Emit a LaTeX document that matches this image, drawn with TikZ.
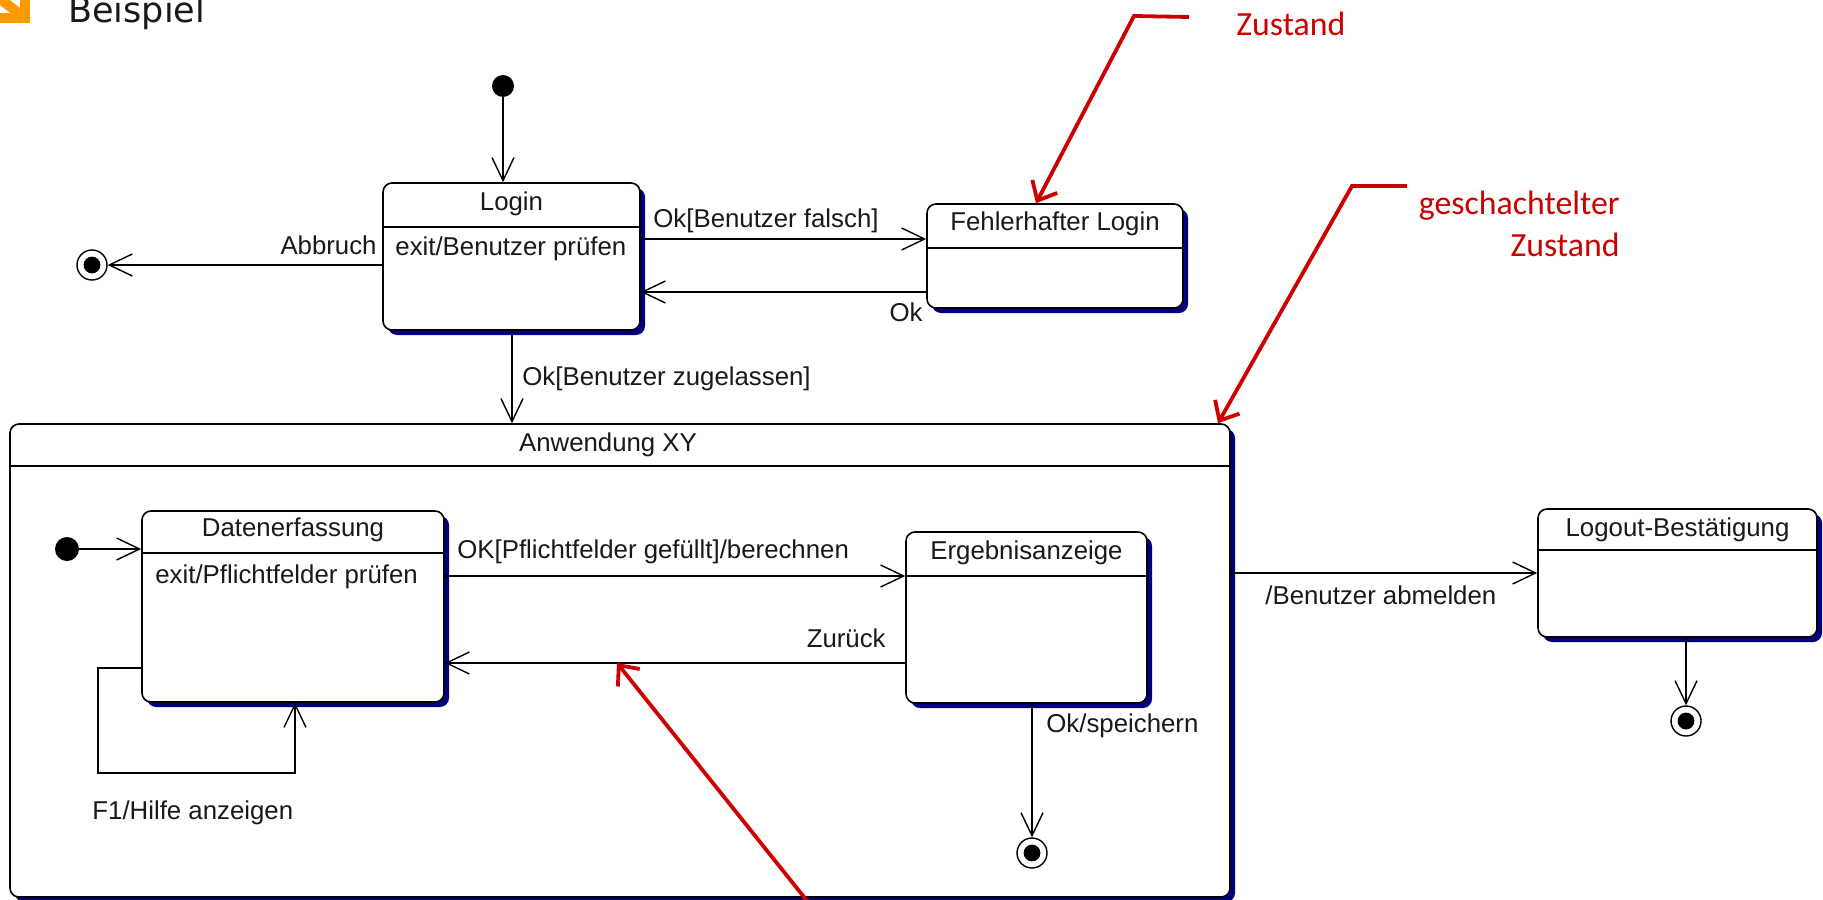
\documentclass[tikz,border=0pt]{standalone}
\usepackage{fontspec}
\setmainfont{Liberation Sans}
\newfontfamily\annofont{Carlito}
\newfontfamily\headfont{DejaVu Sans}
\usetikzlibrary{arrows.meta,shadows}
\definecolor{navyc}{RGB}{0,0,128}
\definecolor{redc}{RGB}{204,0,0}
\definecolor{orangec}{RGB}{255,153,0}
\definecolor{txt}{RGB}{25,25,25}
\begin{document}
\begin{tikzpicture}[x=0.5pt,y=-0.5pt,
  st/.style={draw=black, line width=0.8pt, fill=white, rounded corners=4.5pt, inner sep=0pt,
     drop shadow={shadow xshift=2.5pt, shadow yshift=-2.5pt, fill=navyc, opacity=1}},
  sepl/.style={draw=black, line width=0.8pt},
  tr/.style={draw=black, line width=0.7pt, -{Straight Barb[length=11.5pt,width=11pt,line width=0.7pt]}},
  ra/.style={draw=redc, line width=1.9pt, -{Straight Barb[length=8pt,width=14pt,line width=1.9pt]}},
  lbl/.style={font=\fontsize{12.9pt}{15pt}\selectfont, text=txt, inner sep=0pt},
  anno/.style={font=\annofont\fontsize{16.9pt}{21pt}\selectfont, text=redc, inner sep=0pt},
  ini/.style={circle, fill=black, minimum size=11pt, inner sep=0pt},
  fin/.style={circle, draw=black, line width=0.7pt, fill=white, minimum size=15pt, inner sep=0pt,
     path picture={\fill[black] (path picture bounding box.center) circle (4.2pt);}}
]
\clip (0,0) rectangle (1823,899);
\fill[white] (0,0) rectangle (1823,899);

% header
\fill[orangec] (20,-2) rectangle (30,23);
\fill[orangec] (0,13) rectangle (30,23);
\draw[orangec, line width=5pt] (-6,-6) -- (22,16);
\node[anchor=base west, font=\headfont\fontsize{17.5pt}{20pt}\selectfont, inner sep=0pt, text=txt] (bsp) at (68,23) {Beispiel};

% Login
\node[ini] (init1) at (503,86) {};
\node[st, minimum width=128.5pt, minimum height=73.5pt] (login) at (511.5,256.5) {};
\draw[sepl] (login.west |- 0,227) -- (login.east |- 0,227);
\node[lbl] (tLogin) at (511.5,204) {Login};
\node[lbl, anchor=west] (eLogin) at (395,249) {exit/Benutzer prüfen};

% Fehlerhafter Login
\node[st, minimum width=128pt, minimum height=52pt] (fehler) at (1055,256) {};
\draw[sepl] (fehler.west |- 0,248) -- (fehler.east |- 0,248);
\node[lbl] (tFehler) at (1055,224) {Fehlerhafter Login};

\node[fin] (fin1) at (92,265) {};

% Anwendung
\node[st, minimum width=610pt, minimum height=236.5pt] (anw) at (620,660.5) {};
\draw[sepl] (anw.west |- 0,466) -- (anw.east |- 0,466);
\node[lbl] (tAnw) at (608,445) {Anwendung XY};

% Datenerfassung
\node[ini, minimum size=12pt] (init2) at (67,549) {};
\node[st, minimum width=151pt, minimum height=95.5pt] (daten) at (293,606.5) {};
\draw[sepl] (daten.west |- 0,553) -- (daten.east |- 0,553);
\node[lbl] (tDaten) at (293,530) {Datenerfassung};
\node[lbl, anchor=west] (eDaten) at (155,577) {exit/Pflichtfelder prüfen};

% Ergebnisanzeige
\node[st, minimum width=120.5pt, minimum height=85.5pt] (erg) at (1026.5,617.5) {};
\draw[sepl] (erg.west |- 0,576) -- (erg.east |- 0,576);
\node[lbl] (tErg) at (1026.5,553) {Ergebnisanzeige};
\node[fin] (fin2) at (1032,853) {};

% Logout
\node[st, minimum width=139.5pt, minimum height=64pt] (logout) at (1677.5,573) {};
\draw[sepl] (logout.west |- 0,550) -- (logout.east |- 0,550);
\node[lbl] (tLogout) at (1677.5,530) {Logout-Bestätigung};
\node[fin] (fin3) at (1686,721) {};

% transitions
\draw[tr] (init1) -- (init1 |- login.north);
\draw[tr] (login.west |- 0,265) -- (fin1);
\node[lbl, anchor=east] (lAbb) at (377,245) {Abbruch};
\draw[tr] (login.east |- 0,239) -- (fehler.west |- 0,239);
\node[lbl, anchor=west] (lFalsch) at (653,221) {Ok[Benutzer falsch]};
\draw[tr] (fehler.west |- 0,292) -- (login.east |- 0,292);
\node[lbl, anchor=east] (lOk) at (923,312) {Ok};
\draw[tr] (login.south -| 512,0) -- (anw.north -| 512,0);
\node[lbl, anchor=west] (lZug) at (522,379) {Ok[Benutzer zugelassen]};

\draw[tr] (init2) -- (daten.west |- init2);
\coordinate (loopc) at (98,773);
\draw[tr] (daten.west |- 0,668) -| (loopc) -| (daten.south -| 295,0);
\node[lbl, anchor=west] (lF1) at (92,813) {F1/Hilfe anzeigen};
\draw[tr] (daten.east |- 0,576) -- (erg.west |- 0,576);
\node[lbl, anchor=west] (lBer) at (457,552) {OK[Pflichtfelder gefüllt]/berechnen};
\draw[tr] (erg.west |- 0,663) -- (daten.east |- 0,663);
\node[lbl, anchor=east] (lZur) at (886,638) {Zurück};
\draw[tr] (erg.south -| fin2) -- (fin2);
\node[lbl, anchor=west] (lSp) at (1046,726) {Ok/speichern};

\draw[tr] (anw.east |- logout.west) -- (logout.west);
\node[lbl, anchor=west] (lAbm) at (1265,595) {/Benutzer abmelden};
\draw[tr] (logout.south -| fin3) -- (fin3);

% annotations
\node[anno, anchor=west] (aZ1) at (1236,24) {Zustand};
\coordinate (s1) at (1189,17);
\coordinate (k1) at (1134,16);
\draw[ra] (s1) -- (k1) -- (fehler.north -| 1036,0);

\node[anno, anchor=east, align=right] (aZ2) at (1620,224) {geschachtelter\\Zustand};
\coordinate (s2) at (1407,186);
\coordinate (k2) at (1352,186);
\draw[ra] (s2) -- (k2) -- (anw.north -| 1218,0);

\coordinate (s3) at (808,902);
\coordinate (zr) at (617,663);
\draw[ra] (s3) -- (zr);
\end{tikzpicture}
\end{document}
